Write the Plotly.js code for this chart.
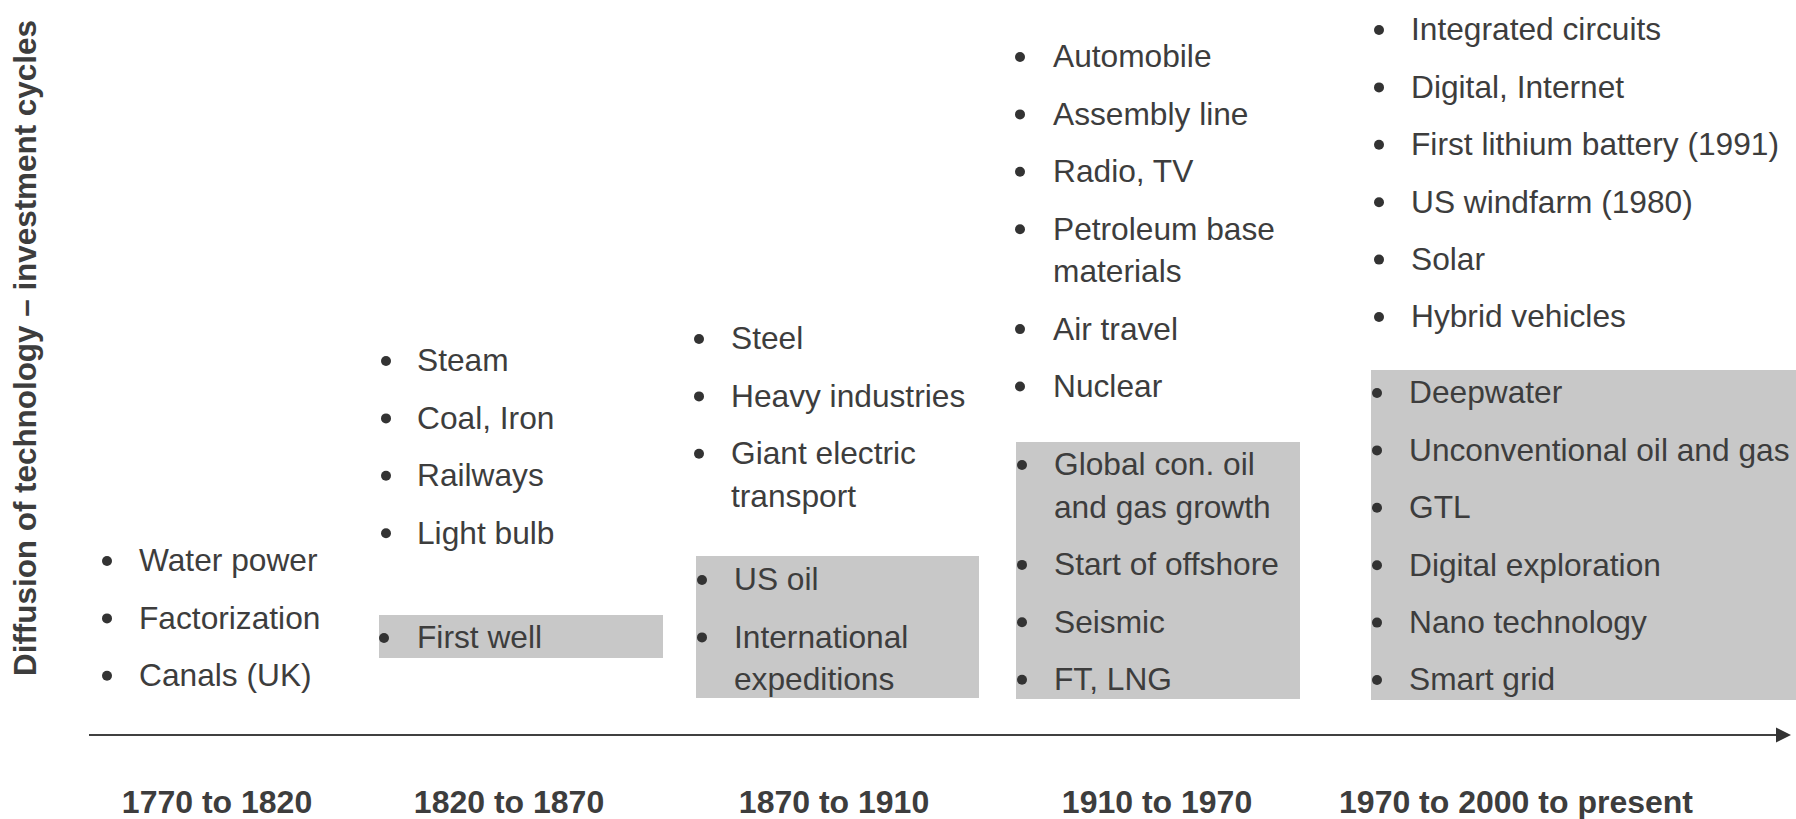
<!DOCTYPE html>
<html>
<head>
<meta charset="utf-8">
<script src="https://cdn.plot.ly/plotly-3.0.1.min.js"></script>
<style>html,body{margin:0;padding:0;background:#fff;}#chart{width:1796px;height:819px;}</style>
</head>
<body>
<div id="chart"></div>
<script>
// ---- data ----
const periods = ["1770 to 1820", "1820 to 1870", "1870 to 1910", "1910 to 1970", "1970 to 2000 to present"];
const technology = [
  ["Water power", "Factorization", "Canals (UK)"],
  ["Steam", "Coal, Iron", "Railways", "Light bulb"],
  ["Steel", "Heavy industries", "Giant electric<br>transport"],
  ["Automobile", "Assembly line", "Radio, TV", "Petroleum base<br>materials", "Air travel", "Nuclear"],
  ["Integrated circuits", "Digital, Internet", "First lithium battery (1991)", "US windfarm (1980)", "Solar", "Hybrid vehicles"]
];
const oilAndGas = [
  [],
  ["First well"],
  ["US oil", "International<br>expeditions"],
  ["Global con. oil<br>and gas growth", "Start of offshore", "Seismic", "FT, LNG"],
  ["Deepwater", "Unconventional oil and gas", "GTL", "Digital exploration", "Nano technology", "Smart grid"]
];
const axisTitle = "Diffusion of technology \u2013 investment cycles";

// ---- layout (pixel-space axes) ----
const W = 1796, H = 819;
const axisY = 735;
const labelX = [217, 509, 834, 1157, 1516];
const techPos = [
  {bx: 107, tx: 141, y0: 561},
  {bx: 386, tx: 419, y0: 361},
  {bx: 699, tx: 733, y0: 339},
  {bx: 1020, tx: 1055, y0: 57},
  {bx: 1379, tx: 1413, y0: 30}
];
const oilPos = [
  null,
  {bx: 384, tx: 419, y0: 638, box: [379, 663, 615, 658]},
  {bx: 702, tx: 736, y0: 580, box: [696, 979, 556, 698]},
  {bx: 1022, tx: 1056, y0: 465, box: [1016, 1300, 442, 699]},
  {bx: 1377, tx: 1411, y0: 393, box: [1371, 1796, 370, 700]}
];
const ITEM_STEP = 57.4, LINE_STEP = 42.5, TEXT_DX = -2, TEXT_DY = 2.5;
const textColor = "#3d3d3d";
const FONT = "'Liberation Sans', Arial, Helvetica, sans-serif";

const bx = [], by = [], tx = [], ty = [], tt = [];
function addGroup(items, pos) {
  let y = pos.y0;
  items.forEach(item => {
    const lines = item.split("<br>");
    bx.push(pos.bx); by.push(y);
    lines.forEach((ln, k) => {
      tx.push(pos.tx + TEXT_DX); ty.push(y + TEXT_DY + k * LINE_STEP); tt.push(ln);
    });
    y += ITEM_STEP + (lines.length - 1) * LINE_STEP;
  });
}
technology.forEach((items, i) => addGroup(items, techPos[i]));
oilAndGas.forEach((items, i) => { if (items.length) addGroup(items, oilPos[i]); });

const shapes = [];
oilPos.forEach(p => {
  if (!p) return;
  shapes.push({type: "rect", xref: "x", yref: "y", x0: p.box[0], x1: p.box[1], y0: p.box[2], y1: p.box[3],
    fillcolor: "#c8c8c8", line: {width: 0}, layer: "below"});
});
shapes.push({type: "line", xref: "x", yref: "y", x0: 89, x1: 1778, y0: axisY, y1: axisY,
  line: {color: "#404040", width: 2}});
shapes.push({type: "path", xref: "x", yref: "y",
  path: `M 1776 ${axisY - 7.5} L 1791 ${axisY} L 1776 ${axisY + 7.5} Z`,
  fillcolor: "#333333", line: {width: 0}});

const traces = [
  {type: "scatter", mode: "markers", x: bx, y: by, hoverinfo: "skip", showlegend: false,
   marker: {symbol: "circle", size: 10, color: "#333333"}, cliponaxis: false},
  {type: "scatter", mode: "text", x: tx, y: ty, text: tt, textposition: "middle right",
   hoverinfo: "skip", showlegend: false, cliponaxis: false,
   textfont: {family: FONT, size: 31.7, color: textColor}}
];

const layout = {
  width: W, height: H,
  margin: {l: 0, r: 0, t: 0, b: 0, pad: 0},
  paper_bgcolor: "#ffffff", plot_bgcolor: "#ffffff",
  showlegend: false,
  xaxis: {range: [0, W], anchor: "free", position: (H - axisY) / H,
    showgrid: false, zeroline: false, showline: false, ticks: "",
    tickmode: "array", tickvals: labelX, ticktext: periods.map(p => "<b>" + p + "</b>"),
    tickfont: {family: FONT, size: 32, color: textColor}, ticklabelstandoff: 45, fixedrange: true},
  yaxis: {range: [H, 0], visible: false, fixedrange: true},
  shapes: shapes,
  annotations: [{text: "<b>" + axisTitle + "</b>", xref: "x", yref: "y", x: 25, y: 348,
    textangle: -90, showarrow: false, font: {family: FONT, size: 31.4, color: textColor}}]
};

Plotly.newPlot("chart", traces, layout, {displayModeBar: false, staticPlot: true});
</script>
</body>
</html>
